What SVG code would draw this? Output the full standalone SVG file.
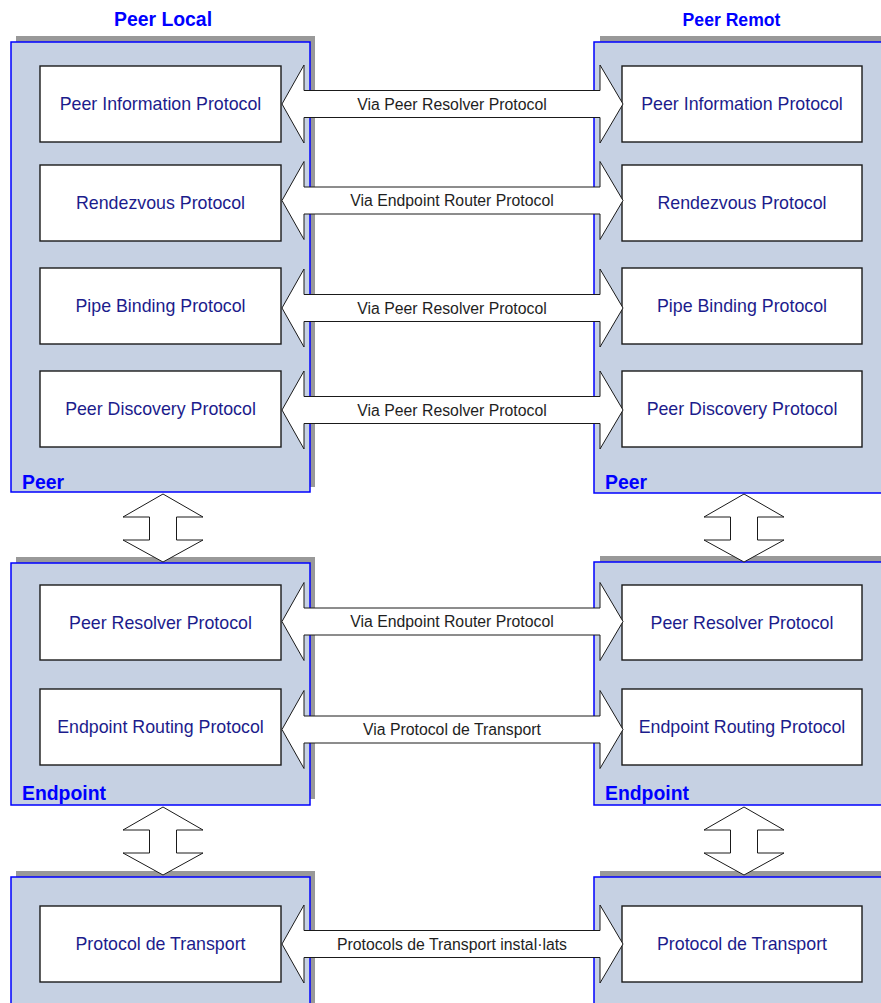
<svg xmlns="http://www.w3.org/2000/svg" xmlns:xlink="http://www.w3.org/1999/xlink" width="881" height="1003" viewBox="0 0 881 1003">
  <style>
    .shadow { fill: #999999; }
    .panel { fill: #c6d1e3; stroke: #0000ff; stroke-width: 1.5; }
    .box { fill: #ffffff; stroke: #1a1a1a; stroke-width: 1.4; }
    .boxtxt { font-family: "Liberation Sans", Arial, sans-serif; font-size: 17.8px; fill: #1c1c8c; text-anchor: middle; }
    .title { font-family: "Liberation Sans", Arial, sans-serif; font-size: 19.4px; font-weight: bold; fill: #0000ff; }
    .mid { text-anchor: middle; }
    .arrow { fill: #ffffff; stroke: #1a1a1a; stroke-width: 1; stroke-linejoin: miter; }
    .arrtxt { font-family: "Liberation Sans", Arial, sans-serif; font-size: 15.8px; fill: #1e1e1e; text-anchor: middle; }
  </style>
  <defs>
    <!-- horizontal double-headed block arrow, centred vertically on y=0 -->
    <path id="harrow" d="M282,0 L304,-39 L304,-13.5 L600,-13.5 L600,-39 L623,0 L600,39 L600,13.5 L304,13.5 L304,39 Z"/>
    <!-- vertical double-headed block arrow, top tip at origin -->
    <path id="varrow" d="M0,0 L40,23 L13.5,23 L13.5,46 L40,46 L0,68 L-40,46 L-13.5,46 L-13.5,23 L-40,23 Z"/>
  </defs>

  <rect width="881" height="1003" fill="#ffffff"/>

  <!-- column titles -->
  <text class="title mid" x="163" y="26">Peer Local</text>
  <text class="title mid" x="731.5" y="26" style="font-size:17.6px">Peer Remot</text>

  <!-- local side -->
  <g id="local-peer">
    <rect class="shadow" x="16" y="36" width="299" height="451"/>
    <rect class="panel" x="11" y="42" width="299" height="450"/>
    <text class="title" x="22" y="489">Peer</text>
  </g>
  <g id="local-endpoint">
    <rect class="shadow" x="16" y="557" width="299" height="242"/>
    <rect class="panel" x="11" y="563" width="299" height="242"/>
    <text class="title" x="22" y="800">Endpoint</text>
  </g>
  <g id="local-transport-layer">
    <rect class="shadow" x="16" y="871" width="299" height="140"/>
    <rect class="panel" x="11" y="877" width="299" height="140"/>
  </g>

  <!-- remote side -->
  <g id="remote-peer">
    <rect class="shadow" x="600" y="36" width="300" height="451"/>
    <rect class="panel" x="594" y="42" width="300" height="451"/>
    <text class="title" x="605" y="489">Peer</text>
  </g>
  <g id="remote-endpoint">
    <rect class="shadow" x="600" y="556" width="300" height="243"/>
    <rect class="panel" x="594" y="562" width="300" height="243"/>
    <text class="title" x="605" y="800">Endpoint</text>
  </g>
  <g id="remote-transport-layer">
    <rect class="shadow" x="600" y="871" width="300" height="140"/>
    <rect class="panel" x="594" y="877" width="300" height="140"/>
  </g>

  <!-- local protocol boxes -->
  <g id="local-pip"><rect class="box" x="40" y="66" width="241" height="76"/><text class="boxtxt" x="160.5" y="110.4">Peer Information Protocol</text></g>
  <g id="local-rvp"><rect class="box" x="40" y="165" width="241" height="76"/><text class="boxtxt" x="160.5" y="209.4">Rendezvous Protocol</text></g>
  <g id="local-pbp"><rect class="box" x="40" y="268" width="241" height="76"/><text class="boxtxt" x="160.5" y="312.4">Pipe Binding Protocol</text></g>
  <g id="local-pdp"><rect class="box" x="40" y="371" width="241" height="76"/><text class="boxtxt" x="160.5" y="415.4">Peer Discovery Protocol</text></g>
  <g id="local-prp"><rect class="box" x="40" y="585" width="241" height="75"/><text class="boxtxt" x="160.5" y="628.9">Peer Resolver Protocol</text></g>
  <g id="local-erp"><rect class="box" x="40" y="689" width="241" height="76"/><text class="boxtxt" x="160.5" y="733.4">Endpoint Routing Protocol</text></g>
  <g id="local-transport"><rect class="box" x="40" y="906" width="241" height="76"/><text class="boxtxt" x="160.5" y="950.4">Protocol de Transport</text></g>

  <!-- remote protocol boxes -->
  <g id="remote-pip"><rect class="box" x="622" y="66" width="240" height="76"/><text class="boxtxt" x="742" y="110.4">Peer Information Protocol</text></g>
  <g id="remote-rvp"><rect class="box" x="622" y="165" width="240" height="76"/><text class="boxtxt" x="742" y="209.4">Rendezvous Protocol</text></g>
  <g id="remote-pbp"><rect class="box" x="622" y="268" width="240" height="76"/><text class="boxtxt" x="742" y="312.4">Pipe Binding Protocol</text></g>
  <g id="remote-pdp"><rect class="box" x="622" y="371" width="240" height="76"/><text class="boxtxt" x="742" y="415.4">Peer Discovery Protocol</text></g>
  <g id="remote-prp"><rect class="box" x="622" y="585" width="240" height="75"/><text class="boxtxt" x="742" y="628.9">Peer Resolver Protocol</text></g>
  <g id="remote-erp"><rect class="box" x="622" y="689" width="240" height="76"/><text class="boxtxt" x="742" y="733.4">Endpoint Routing Protocol</text></g>
  <g id="remote-transport"><rect class="box" x="622" y="906" width="240" height="76"/><text class="boxtxt" x="742" y="950.4">Protocol de Transport</text></g>

  <!-- connectors -->
  <g id="connectors">
    <use xlink:href="#harrow" href="#harrow" class="arrow" transform="translate(0,104)"/>
    <text class="arrtxt" x="452" y="109.7">Via Peer Resolver Protocol</text>
    <use xlink:href="#harrow" href="#harrow" class="arrow" transform="translate(0,200.5)"/>
    <text class="arrtxt" x="452" y="206.2">Via Endpoint Router Protocol</text>
    <use xlink:href="#harrow" href="#harrow" class="arrow" transform="translate(0,308)"/>
    <text class="arrtxt" x="452" y="313.7">Via Peer Resolver Protocol</text>
    <use xlink:href="#harrow" href="#harrow" class="arrow" transform="translate(0,410)"/>
    <text class="arrtxt" x="452" y="415.7">Via Peer Resolver Protocol</text>
    <use xlink:href="#harrow" href="#harrow" class="arrow" transform="translate(0,621.5)"/>
    <text class="arrtxt" x="452" y="627.2">Via Endpoint Router Protocol</text>
    <use xlink:href="#harrow" href="#harrow" class="arrow" transform="translate(0,729.5)"/>
    <text class="arrtxt" x="452" y="735.2">Via Protocol de Transport</text>
    <use xlink:href="#harrow" href="#harrow" class="arrow" transform="translate(0,944)"/>
    <text class="arrtxt" x="452" y="949.7">Protocols de Transport instal·lats</text>

    <use xlink:href="#varrow" href="#varrow" class="arrow" transform="translate(163,494)"/>
    <use xlink:href="#varrow" href="#varrow" class="arrow" transform="translate(744,494)"/>
    <use xlink:href="#varrow" href="#varrow" class="arrow" transform="translate(163,807)"/>
    <use xlink:href="#varrow" href="#varrow" class="arrow" transform="translate(744,807)"/>
  </g>
</svg>
